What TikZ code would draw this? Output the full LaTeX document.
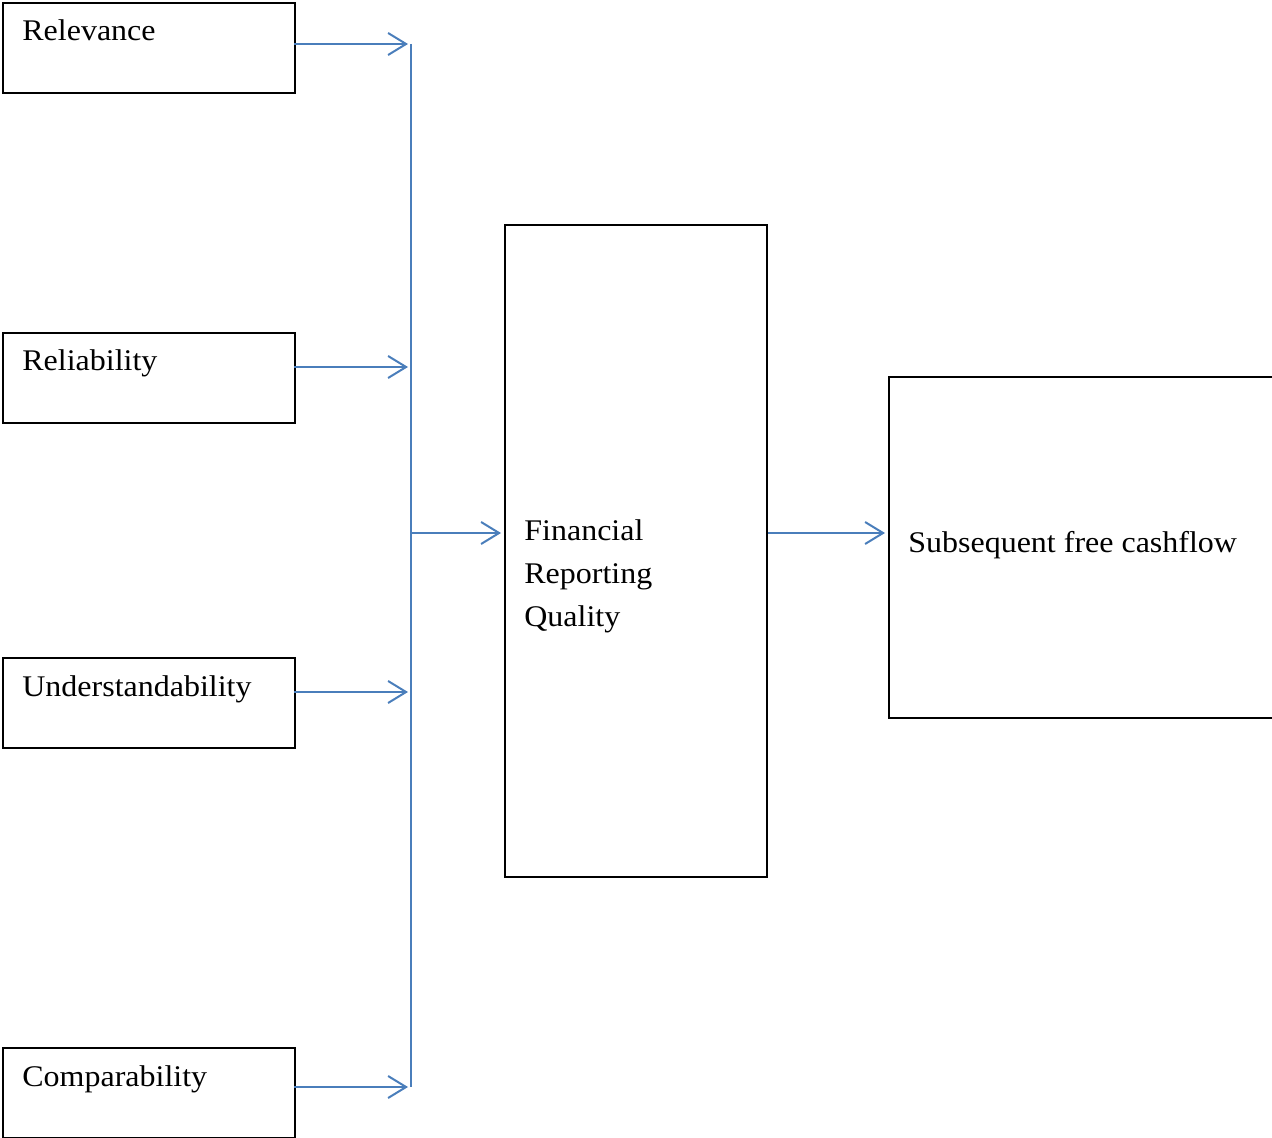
\documentclass[tikz,border=0pt]{standalone}
\usepackage{fontspec}
\setmainfont{Liberation Serif}[FakeStretch=1.066]
\usetikzlibrary{arrows.meta}
\definecolor{linkblue}{RGB}{74,126,187}
\begin{document}
\begin{tikzpicture}[x=0.5pt, y=-0.5pt,
  box/.style={draw, line width=1pt, inner sep=0pt, anchor=north west},
  lbl/.style={font=\fontsize{15}{21.5}\selectfont, inner sep=0pt, align=left, anchor=base west},
  link/.style={draw=linkblue, line width=1pt, shorten >=1.5pt,
    -{Straight Barb[length=9pt, width=11pt, line width=1pt]}},
  bus/.style={draw=linkblue, line width=1pt}]
  \useasboundingbox (0,0) rectangle (1272,1138);
  \node[box, minimum width=146pt, minimum height=45pt] (rel) at(2,2){};
  \node[box, minimum width=146pt, minimum height=45pt] (reli) at(2,332){};
  \node[box, minimum width=146pt, minimum height=45pt] (und) at(2,657){};
  \node[box, minimum width=146pt, minimum height=45pt] (comp) at(2,1047){};
  \node[box, minimum width=131pt, minimum height=326pt] (frq) at(504,224){};
  \node[box, minimum width=200pt, minimum height=170.5pt] (sfc) at(888,376){};
  \node[lbl] (reltxt) at([shift={(20,39)}]rel.north west){Relevance};
  \node[lbl] (relitxt) at([shift={(20,39)}]reli.north west){Reliability};
  \node[lbl] (undtxt) at([shift={(20,39)}]und.north west){Understandability};
  \node[lbl] (comptxt) at([shift={(20,39)}]comp.north west){Comparability};
  \node[lbl, anchor=north west] (frqtxt) at([shift={(20,295)}]frq.north west){Financial\\Reporting\\Quality};
  \node[lbl] (sfctxt) at([shift={(20,176)}]sfc.north west){Subsequent free cashflow};
  \coordinate (b1) at(411,44);
  \coordinate (b2) at(411,367);
  \coordinate (b3) at(411,692);
  \coordinate (b4) at(411,1087);
  \coordinate (bm) at(411,533);
  \draw[bus] (b1) -- (b4);
  \draw[link] ([xshift=-1pt]rel.east |- b1) -- (b1);
  \draw[link] ([xshift=-1pt]reli.east |- b2) -- (b2);
  \draw[link] ([xshift=-1pt]und.east |- b3) -- (b3);
  \draw[link] ([xshift=-1pt]comp.east |- b4) -- (b4);
  \draw[link] (bm) -- (frq.west |- bm);
  \draw[link] (frq.east |- bm) -- (sfc.west |- bm);
\end{tikzpicture}
\end{document}
